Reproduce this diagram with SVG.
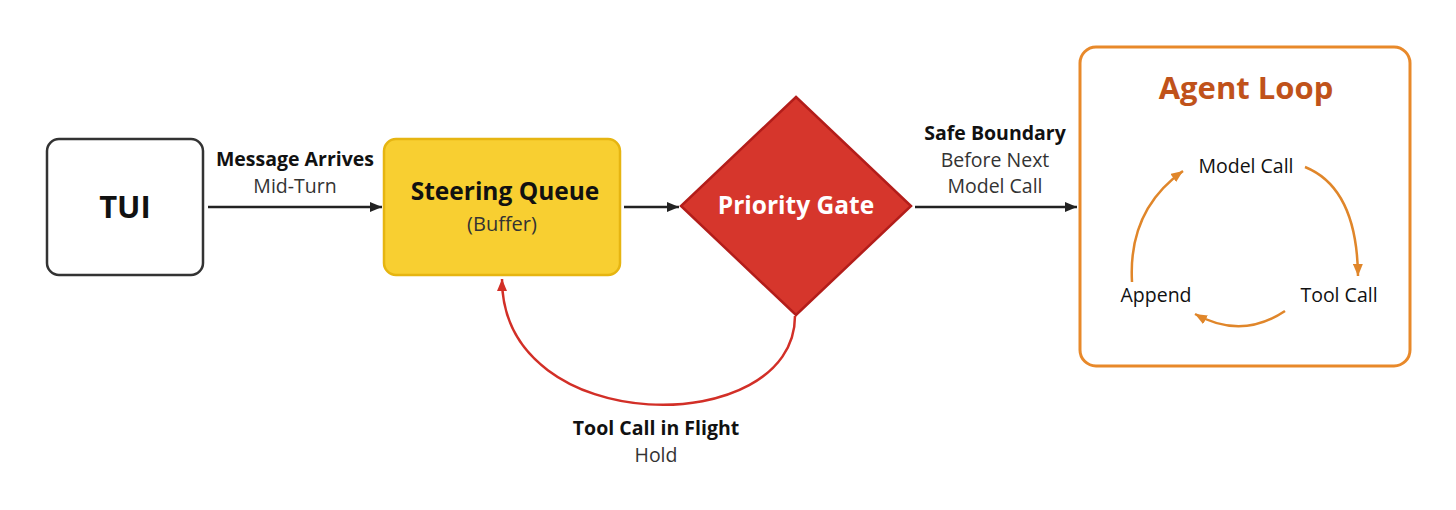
<svg xmlns="http://www.w3.org/2000/svg" width="1456" height="510" viewBox="0 0 1456 510">
  <style>
    text { font-family: "Open Sans", "Noto Sans", "DejaVu Sans", sans-serif; text-anchor: middle; }
    .b { font-weight: 700; fill: #111; }
    .r { font-weight: 400; fill: #333; }
    .lbl { font-size: 19.5px; }
    .loop { font-size: 19.5px; fill: #111; font-weight: 400; }
    .conn { fill: none; stroke: #222; stroke-width: 2.5; }
    .red { fill: none; stroke: #d22f27; stroke-width: 2.5; }
    .org { fill: none; stroke: #e0862a; stroke-width: 2.5; }
  </style>
  <defs>
    <marker id="ah" viewBox="0 0 12 10" refX="12" refY="5" markerWidth="12" markerHeight="10" markerUnits="userSpaceOnUse" orient="auto">
      <path d="M0,0 L12,5 L0,10 z" fill="#222"/>
    </marker>
    <marker id="ahr" viewBox="0 0 12 10" refX="12" refY="5" markerWidth="12" markerHeight="10" markerUnits="userSpaceOnUse" orient="auto">
      <path d="M0,0 L12,5 L0,10 z" fill="#d22f27"/>
    </marker>
    <marker id="aho" viewBox="0 0 12 10" refX="12" refY="5" markerWidth="12" markerHeight="10" markerUnits="userSpaceOnUse" orient="auto">
      <path d="M0,0 L12,5 L0,10 z" fill="#e0862a"/>
    </marker>
  </defs>
  <rect width="1456" height="510" fill="#ffffff"/>

  <g id="tui">
    <rect x="47" y="139" width="156" height="136" rx="12" fill="#fff" stroke="#333" stroke-width="2.5"/>
    <text class="b" x="125" y="218" font-size="31">TUI</text>
  </g>

  <g id="steering-queue">
    <rect x="384" y="139" width="236" height="136" rx="12" fill="#f8cf31" stroke="#e6b511" stroke-width="2.5"/>
    <text class="b" x="505" y="200" font-size="24.5">Steering Queue</text>
    <text class="r" x="502" y="231" font-size="20">(Buffer)</text>
  </g>

  <g id="priority-gate">
    <polygon points="796,97 911,206 796,315 681,206" fill="#d6362c" stroke="#b31d1a" stroke-width="2.5" stroke-linejoin="miter"/>
    <text x="796" y="214" font-size="24.5" font-weight="700" fill="#fff">Priority Gate</text>
  </g>

  <g id="agent-loop">
    <rect x="1080" y="47" width="330" height="319" rx="16" fill="#fff" stroke="#e8892a" stroke-width="3"/>
    <text x="1246" y="99" font-size="31" font-weight="700" fill="#c0521a">Agent Loop</text>
    <g id="model-call"><text class="loop" x="1246" y="173">Model Call</text></g>
    <g id="tool-call"><text class="loop" x="1339" y="302">Tool Call</text></g>
    <g id="append"><text class="loop" x="1156" y="302">Append</text></g>
  </g>

  <g id="connectors">
    <line class="conn" x1="208" y1="207" x2="382" y2="207" marker-end="url(#ah)"/>
    <line class="conn" x1="624" y1="207" x2="679" y2="207" marker-end="url(#ah)"/>
    <line class="conn" x1="915" y1="207" x2="1077" y2="207" marker-end="url(#ah)"/>
    <path class="red" d="M795,316 C795,440 502,440 502,279" marker-end="url(#ahr)"/>
    <path class="org" d="M1305,167 Q1357,188 1358,276" marker-end="url(#aho)"/>
    <path class="org" d="M1285,311 Q1242,340 1195,314" marker-end="url(#aho)"/>
    <path class="org" d="M1132,282 Q1128,210 1183,171" marker-end="url(#aho)"/>
  </g>

  <g id="edge-labels">
    <text class="b lbl" x="295" y="166">Message Arrives</text>
    <text class="r lbl" x="295" y="193">Mid-Turn</text>
    <text class="b lbl" x="995" y="140">Safe Boundary</text>
    <text class="r lbl" x="995" y="167">Before Next</text>
    <text class="r lbl" x="995" y="193">Model Call</text>
    <text class="b lbl" x="656" y="435">Tool Call in Flight</text>
    <text class="r lbl" x="656" y="462">Hold</text>
  </g>
</svg>
